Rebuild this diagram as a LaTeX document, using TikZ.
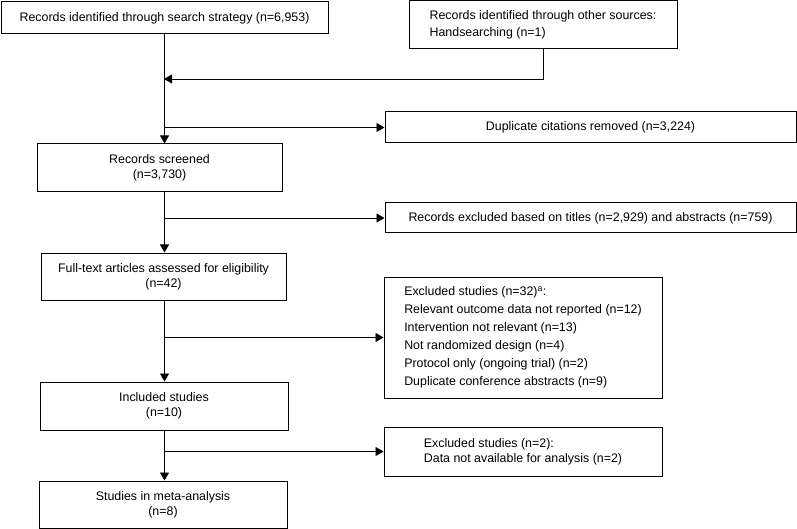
\documentclass[tikz,border=0pt]{standalone}
\usepackage{fontspec}
\setmainfont{Liberation Sans}
\usepackage{tikz}
\usetikzlibrary{arrows.meta}
\tikzstyle{flowbox} = [draw=black, fill=white, line width=1pt, rectangle, inner sep=2pt, align=center, font=\fontsize{12.4}{15}\selectfont]
\tikzstyle{listbox} = [flowbox, align=left, font=\fontsize{12.4}{17.9}\selectfont]
\tikzstyle{flowarrow} = [draw=black, line width=0.9pt, -{Triangle[length=8pt,width=9pt]}]

\begin{document}
\begin{tikzpicture}[x=1pt,y=-1pt]
\useasboundingbox (0,0) rectangle (797,529);
% identification
\node [flowbox, minimum width=327pt, minimum height=32pt] (search) at (164.5,18) {Records identified through search strategy (n=6,953)};
\node [listbox, font=\fontsize{12.4}{16.5}\selectfont, minimum width=268pt, minimum height=48pt] (other) at (543,25) {Records identified through other sources:\\Handsearching (n=1)};
\coordinate (merge) at (164,79);
\node [flowbox, minimum width=411pt, minimum height=31pt] (dup) at (590.5,127.5) {Duplicate citations removed (n=3,224)};
% screening
\node [flowbox, minimum width=245pt, minimum height=48pt] (screened) at (159.5,168) {Records screened\\(n=3,730)};
\node [flowbox, minimum width=411pt, minimum height=30pt] (titles) at (590.5,218) {Records excluded based on titles (n=2,929) and abstracts (n=759)};
% eligibility
\node [flowbox, minimum width=245pt, minimum height=47pt] (fulltext) at (163.5,276.5) {Full-text articles assessed for eligibility\\(n=42)};
\node [listbox, minimum width=278pt, minimum height=121pt] (excluded) at (523,337.5) {Excluded studies (n=32)\textsuperscript{a}:\\Relevant outcome data not reported (n=12)\\Intervention not relevant (n=13)\\Not randomized design (n=4)\\Protocol only (ongoing trial) (n=2)\\Duplicate conference abstracts (n=9)};
% included
\node [flowbox, minimum width=248pt, minimum height=48pt] (included) at (164,406) {Included studies\\(n=10)};
\node [listbox, font=\fontsize{12.4}{15}\selectfont, minimum width=278pt, minimum height=49pt] (nodata) at (523,451.5) {Excluded studies (n=2):\\Data not available for analysis (n=2)};
\node [flowbox, minimum width=248pt, minimum height=47pt] (meta) at (163,504.5) {Studies in meta-analysis\\(n=8)};

\draw [line width=0.9pt] (other.south) |- (merge);
\draw [flowarrow] (other.south |- merge) -- (merge);
\draw [flowarrow] (search.south) -- (search.south |- screened.north);
\draw [flowarrow] (search.south |- dup.west) -- (dup.west);
\draw [flowarrow] (search.south |- screened.south) -- (search.south |- fulltext.north);
\draw [flowarrow] (search.south |- titles.west) -- (titles.west);
\draw [flowarrow] (search.south |- fulltext.south) -- (search.south |- included.north);
\draw [flowarrow] (search.south |- excluded.west) -- (excluded.west);
\draw [flowarrow] (search.south |- included.south) -- (search.south |- meta.north);
\draw [flowarrow] (search.south |- nodata.west) -- (nodata.west);
\end{tikzpicture}
\end{document}
